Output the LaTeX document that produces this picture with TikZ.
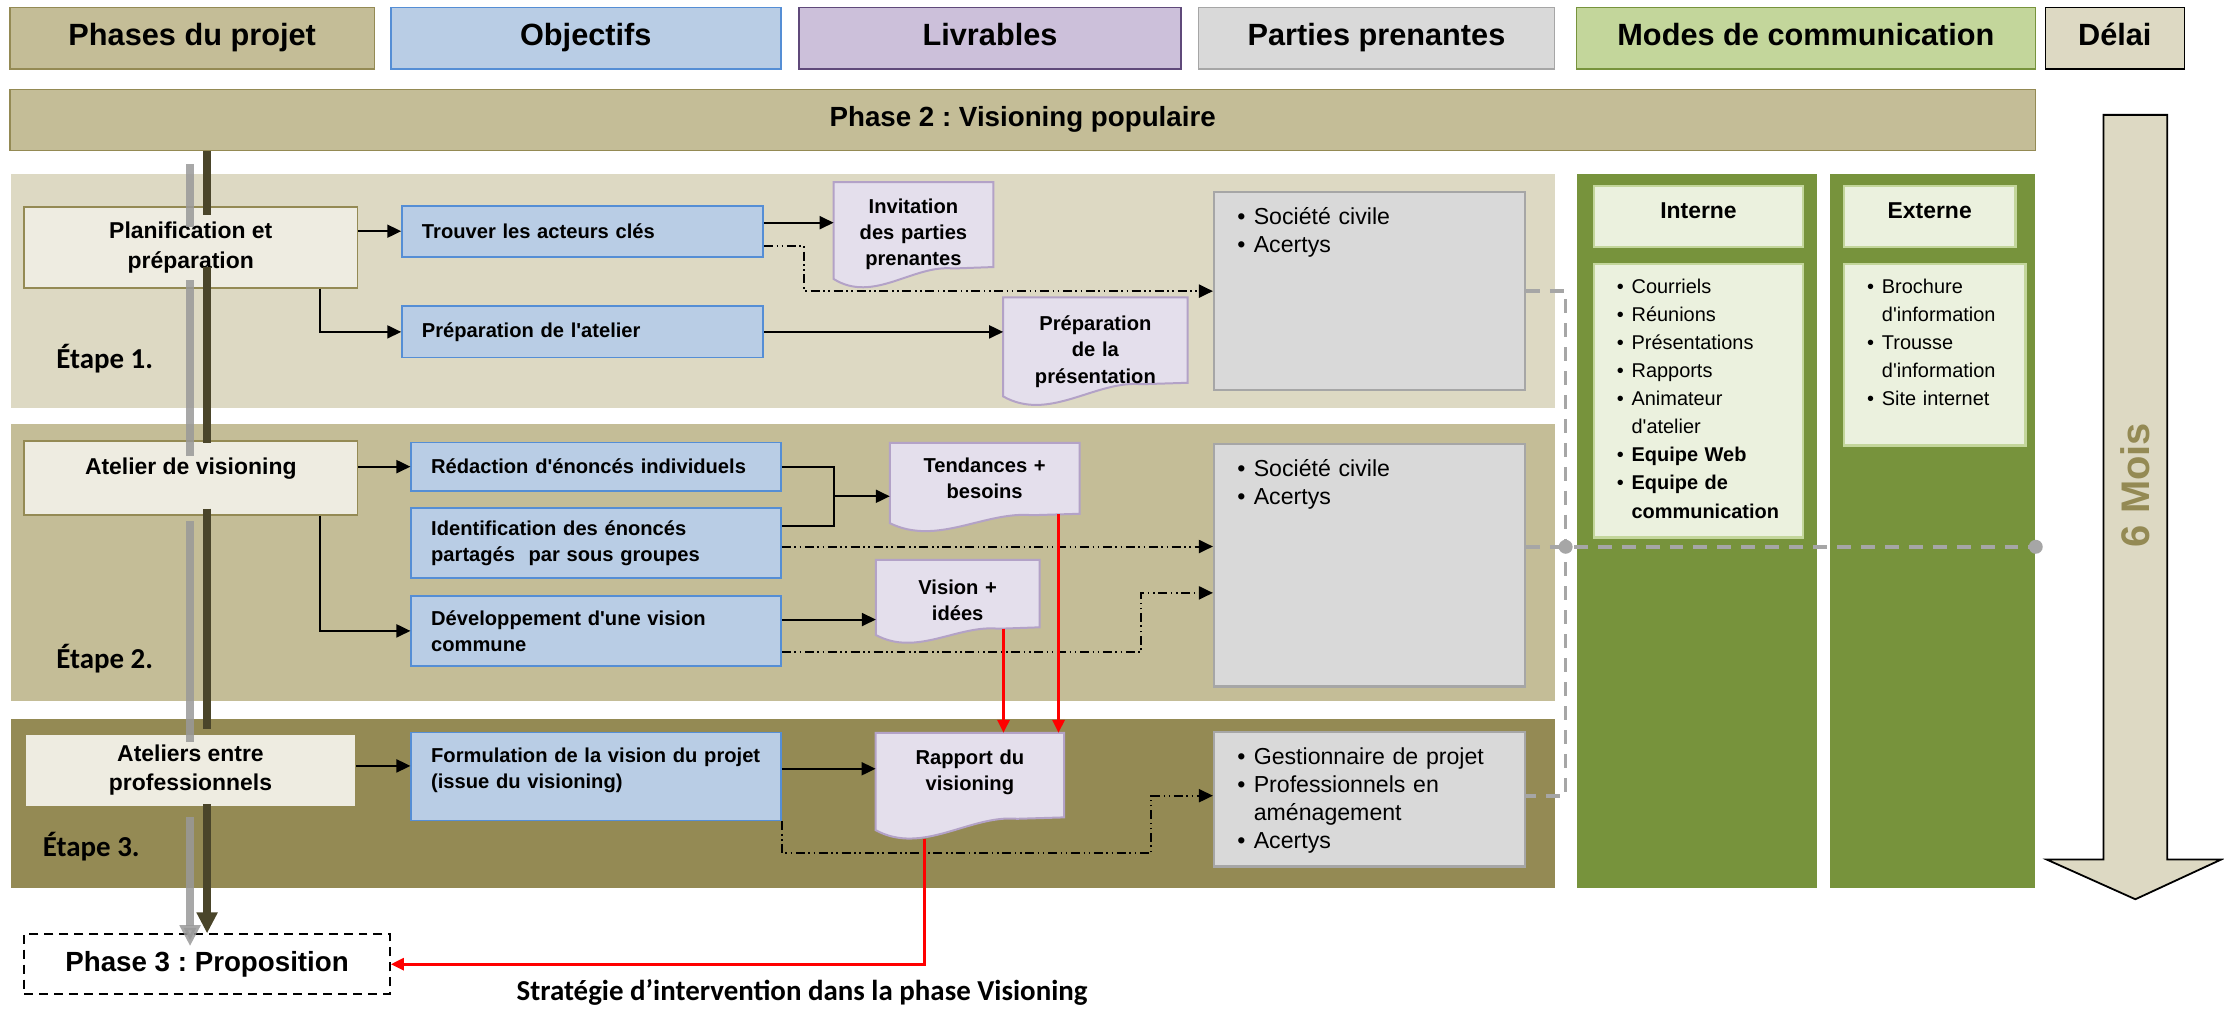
\documentclass[tikz,border=0pt]{standalone}
\usepackage{fontspec}
\setmainfont{Liberation Sans}
\newfontfamily\calibfont{Carlito}
\usetikzlibrary{arrows.meta, calc}
\definecolor{TanLight}{HTML}{DDD9C3}
\definecolor{TanMid}{HTML}{C4BD97}
\definecolor{TanDark}{HTML}{948A54}
\definecolor{TanPale}{HTML}{EEECE1}
\definecolor{ObjBlue}{HTML}{B9CDE5}
\definecolor{ObjEdge}{HTML}{558ED5}
\definecolor{LivFill}{HTML}{E4DFEC}
\definecolor{LivEdge}{HTML}{B3A2C7}
\definecolor{LivHead}{HTML}{CCC0DA}
\definecolor{LivHeadEdge}{HTML}{5F497A}
\definecolor{PPGray}{HTML}{D9D9D9}
\definecolor{PPEdge}{HTML}{A6A6A6}
\definecolor{ComGreen}{HTML}{77933C}
\definecolor{ComLight}{HTML}{C3D69B}
\definecolor{ComPale}{HTML}{EBF1DE}
\definecolor{AxisDark}{HTML}{4A452A}
\definecolor{AxisShadow}{HTML}{999999}

\pgfdeclarelayer{bands}
\pgfdeclarelayer{frames}
\pgfsetlayers{bands,frames,main}

\frenchspacing
\newcommand\upx{0.25mm}
\newcommand\q{\textquotesingle}
\newcommand\pitm[1]{\makebox[8.2pt][l]{\textbullet}#1}
\newcommand\pcont{\hspace*{8.2pt}}
\newcommand\citm[1]{\makebox[7.4pt][l]{\textbullet}#1}
\newcommand\ccont{\hspace*{7.4pt}}
\newcommand\fhead{\fontsize{15.4}{18}\selectfont\bfseries}
\newcommand\fphtwo{\fontsize{13.9}{16}\selectfont\bfseries}
\newcommand\fphase{\fontsize{11.5}{14.9}\selectfont\bfseries}
\newcommand\fobj{\fontsize{10.1}{13.2}\selectfont\bfseries}
\newcommand\fpp{\fontsize{11.6}{14.1}\selectfont}
\newcommand\fcom{\fontsize{10}{14.1}\selectfont}
\newcommand\fetape{\calibfont\fontsize{14.5}{17}\selectfont\bfseries}
\newcommand\fmois{\fontsize{20}{24}\selectfont\bfseries}

% cadre "document" des livrables
\newcommand\livframe[2][13]{%
  \draw[livline] (#2.north west) -- (#2.north east) -- ($(#2.south east)+(0,-#1)$)
    -- ($(#2.south west)!0.75!(#2.south east)+(0,-#1+1)$)
    .. controls ($(#2.south west)!0.5!(#2.south east)+(0,-#1-2)$)
    and ($(#2.south west)!0.25!(#2.south east)+(0,12)$)
    .. ($(#2.south west)+(0,-0.4*#1)$) -- cycle;}

\tikzset{
  headbox/.style={draw, line width=0.8pt, minimum height=43.5*\upx, inner sep=0pt, text height=11pt, text depth=3.3pt, font=\fhead},
  phasebox/.style={draw=TanDark, fill=TanPale, line width=0.8pt, minimum width=235*\upx, align=center, font=\fphase},
  objbox/.style={draw=ObjEdge, fill=ObjBlue, line width=0.9pt, inner xsep=14*\upx, inner ysep=1pt, text width=#1*\upx-28*\upx, align=left, font=\fobj},
  livrable/.style={inner sep=0pt, text width=#1*\upx, minimum width=#1*\upx, align=center, font=\fobj},
  livline/.style={draw=LivEdge, fill=LivFill, line width=1pt},
  ppbox/.style={draw=PPEdge, fill=PPGray, line width=1.2pt, minimum width=219*\upx},
  pptext/.style={anchor=north west, inner sep=0pt, text width=200*\upx, align=left, font=\fpp},
  colgreen/.style={fill=ComGreen, minimum height=503*\upx, inner sep=0pt},
  combox/.style={draw=ComLight, fill=ComPale, line width=1.2pt, inner sep=0pt},
  comtext/.style={anchor=north west, inner sep=0pt, text width=125*\upx, align=left, font=\fcom},
  etape/.style={anchor=west, inner sep=0pt, font=\fetape},
  link/.style={line width=1pt, -{Triangle[length=7pt,width=6.5pt]}},
  dashlink/.style={link, dash pattern=on 4.5pt off 1.8pt on 0.8pt off 1.8pt on 0.8pt off 1.8pt},
  redlink/.style={red, line width=1.4pt, -{Triangle[length=6.5pt,width=6pt]}},
  axis/.style={AxisDark, line width=3.6pt, -{Triangle[length=10.5pt,width=10pt]}},
  axisshadow/.style={axis, AxisShadow, opacity=0.85, transform canvas={xshift=-3mm, yshift=-2.25mm}},
  graylink/.style={PPEdge, line width=1.8pt, dash pattern=on 7pt off 5pt},
}

\begin{document}
\begin{tikzpicture}[x=\upx, y=-\upx]
\useasboundingbox (0,0) rectangle (1568,711);

% en-tetes
\node[headbox, draw=TanDark, fill=TanMid, minimum width=257*\upx] (hphases) at (135.5,27) {Phases du projet};
\node[headbox, draw=ObjEdge, fill=ObjBlue, minimum width=275*\upx] (hobj) at (413,27) {Objectifs};
\node[headbox, draw=LivHeadEdge, fill=LivHead, minimum width=269*\upx] (hliv) at (698,27) {Livrables};
\node[headbox, draw=PPEdge, fill=PPGray, minimum width=251*\upx] (hpp) at (970.5,27) {Parties prenantes};
\node[headbox, draw=ComGreen, fill=ComLight, minimum width=323.5*\upx] (hcom) at (1273.25,27) {Modes de communication};
\node[headbox, draw=black, fill=TanLight, minimum width=98*\upx] (hdelai) at (1491,27) {Délai};
\node[headbox, draw=TanDark, fill=TanMid, minimum width=1428*\upx, minimum height=43*\upx, text height=10pt, text depth=3pt, font=\fphtwo] (phase2) at (721,84.5) {Phase 2 : Visioning populaire};

% bandes des etapes et colonnes
\begin{pgfonlayer}{bands}
  \fill[TanLight] (8,123) rectangle (1096,287.6);
  \fill[TanMid] (8,299) rectangle (1096,494);
  \fill[TanDark] (8,507) rectangle (1096,626);
  \node[colgreen, minimum width=169*\upx] (colint) at (1196.5,374.5) {};
  \node[colgreen, minimum width=145*\upx] (colext) at (1362.5,374.5) {};
\end{pgfonlayer}

\node[etape] (et1) at (39.5,253) {Étape 1.};
\node[etape] (et2) at (39.5,464) {Étape 2.};
\node[etape] (et3) at (30,597) {Étape 3.};

% phases
\node[phasebox, minimum height=57*\upx] (planif) at (134.5,174.4) {Planification et\\préparation};
\node[phasebox, minimum height=52*\upx, text height=8.5pt, text depth=11.7pt] (atelier) at (134.5,337) {Atelier de visioning};
\node[phasebox, minimum width=232.7*\upx, minimum height=51*\upx] (ateliers) at (134.3,543) {Ateliers entre\\professionnels};
\node[draw, line width=0.8pt, dash pattern=on 4.5pt off 3pt, minimum width=258*\upx, minimum height=42.4*\upx, font=\fphtwo] (phase3) at (146,679.8) {Phase 3 : Proposition};

% objectifs
\node[objbox=254.5, minimum height=36*\upx] (trouver) at (410.75,163) {Trouver les acteurs clés};
\node[objbox=254.5, minimum height=36*\upx] (prepat) at (410.75,234) {Préparation de l\q{}atelier};
\node[objbox=260.6, minimum height=34*\upx] (redac) at (420.3,329) {Rédaction d\q{}énoncés individuels};
\node[objbox=260.6, minimum height=49.6*\upx] (ident) at (420.3,382.8) {Identification des énoncés\\partagés~ par sous groupes};
\node[objbox=260.6, minimum height=49.5*\upx] (devel) at (420.3,444.8) {Développement d\q{}une vision\\commune};
\node[objbox=260.6, minimum height=62*\upx, text height=7.4pt, text depth=21.7pt] (formul) at (420.3,547.5) {Formulation de la vision du projet\\(issue du visioning)};

% livrables
\node[livrable=112, minimum height=73.4*\upx] (invit) at (644,165.3) {Invitation\\des parties\\prenantes};
\node[livrable=129.5, minimum height=75.6*\upx] (prepres) at (772.3,247.8) {Préparation\\de la\\présentation};
\node[livrable=133.2, minimum height=60.5*\upx, text height=7.4pt, text depth=21pt] (tend) at (694.2,342.7) {Tendances +\\besoins};
\node[livrable=114.8, minimum height=56*\upx] (vision) at (675.2,423) {Vision +\\idées};
\node[livrable=132.4, minimum height=74*\upx, text height=7.4pt, text depth=29.2pt] (rapport) at (683.8,554) {Rapport du\\visioning};
\begin{pgfonlayer}{frames}
  \foreach \d/\r in {invit/14, prepres/16, tend/11, vision/9, rapport/15} {\livframe[\r]{\d}}
\end{pgfonlayer}

% parties prenantes
\node[ppbox, minimum height=139.5*\upx] (pp1) at (965.5,205.25) {};
\node[ppbox, minimum height=171*\upx] (pp2) at (965.5,398.5) {};
\node[ppbox, minimum height=95*\upx] (pp3) at (965.5,563.5) {};
\node[pptext] (pp1t) at ($(pp1.north west)+(17,11.5)$) {\pitm{Société civile}\\\pitm{Acertys}};
\node[pptext] (pp2t) at ($(pp2.north west)+(17,11.5)$) {\pitm{Société civile}\\\pitm{Acertys}};
\node[pptext] (pp3t) at ($(pp3.north west)+(17,11.5)$) {\pitm{Gestionnaire de projet}\\\pitm{Professionnels en}\\\pcont aménagement\\\pitm{Acertys}};

% modes de communication
\node[combox, minimum width=147*\upx, minimum height=43*\upx, font=\fphase, text height=8.4pt, text depth=5.7pt] (interne) at (1197.5,152.5) {Interne};
\node[combox, minimum width=121*\upx, minimum height=43*\upx, font=\fphase, text height=8.4pt, text depth=5.7pt] (externe) at (1360.5,152.5) {Externe};
\node[combox, minimum width=147*\upx, minimum height=193*\upx] (intlist) at (1197.5,282.5) {};
\node[combox, minimum width=128*\upx, minimum height=128*\upx] (extlist) at (1364,250) {};
\node[comtext] (intt) at ($(intlist.north west)+(16.5,11)$) {\citm{Courriels}\\\citm{Réunions}\\\citm{Présentations}\\\citm{Rapports}\\\citm{Animateur}\\\ccont d\q{}atelier\\\citm{\textbf{Equipe Web}}\\\citm{\textbf{Equipe de}}\\\ccont\textbf{communication}};
\node[comtext] (extt) at ($(extlist.north west)+(17,11)$) {\citm{Brochure}\\\ccont d\q{}information\\\citm{Trousse}\\\ccont d\q{}information\\\citm{Site internet}};

% delai
\draw[fill=TanLight, line width=0.9pt] (1483,81) -- (1528,81) -- (1528,606) -- (1566,606) -- (1505.5,634) -- (1443,606) -- (1483,606) -- cycle;
\node[rotate=90, font=\fmois, text=TanDark] (mois) at (1505.5,342) {6 Mois};

\node[font=\fetape, anchor=base] (strat) at (565.5,705.5) {Stratégie d’intervention dans la phase Visioning};

% etape 1
\draw[link] (planif.east |- trouver.west) -- (trouver.west);
\draw[link] ($(planif.south west)!0.885!(planif.south east)$) |- (prepat.west);
\coordinate (t1) at ($(trouver.east)+(0,-6)$);
\coordinate (t2) at ($(trouver.east)+(0,10.5)$);
\draw[link] (t1) -- (t1 -| invit.west);
\draw[dashlink] (t2) -- ++(28.5,0) |- (pp1.west);
\draw[link] (prepat.east) -- (prepat.east -| prepres.west);

% etape 2
\draw[link] (atelier.east |- redac.west) -- (redac.west);
\draw[link] ($(atelier.south west)!0.885!(atelier.south east)$) |- (devel.west);
\coordinate (m1) at ($(ident.east)+(0,-12)$);
\coordinate (j1) at ($(redac.east)!0.5!(m1)+(37,0)$);
\draw[line width=1pt] (redac.east) -| (m1 -| j1) -- (m1);
\draw[link] (j1) -- (j1 -| tend.west);
\coordinate (i2) at ($(ident.east)+(0,2.5)$);
\draw[dashlink] (i2) -- (i2 -| pp2.west);
\coordinate (d1) at ($(devel.east)+(0,-8)$);
\coordinate (d2) at ($(devel.east)+(0,15)$);
\draw[link] (d1) -- (d1 -| vision.west);
\draw[dashlink] (d2) -- ++(253.5,0) |- ($(pp2.west)+(0,19.5)$);

% etape 3
\coordinate (f0) at ($(formul.west)+(0,-7.5)$);
\coordinate (f1) at ($(formul.east)+(0,-5.5)$);
\coordinate (p3) at ($(pp3.west)+(0,-2.5)$);
\draw[link] (f0 -| ateliers.east) -- (f0);
\draw[link] (f1) -- (f1 -| rapport.west);
\draw[dashlink] (formul.south east) -- ++(0,22.5) -| ($(p3)+(-43.5,0)$) -- (p3);

% fleches rouges
\coordinate (r1) at ($(tend.south east)+(-14.8,-11)$);
\coordinate (r2) at ($(vision.south west)!0.78!(vision.south east)+(0,-8)$);
\coordinate (r3) at ($(rapport.south west)!0.26!(rapport.south east)$);
\draw[redlink] (r1) -- (r1 |- rapport.north);
\draw[redlink] (r2) -- (r2 |- rapport.north);
\draw[redlink] (r3) |- (phase3.east);

% liens gris vers les modes de communication
\coordinate (gx) at ($(pp1.east)+(28,0)$);
\coordinate (g2) at ($(pp2.east)+(0,-13)$);
\coordinate (p3e) at ($(pp3.east)+(0,-2.5)$);
\draw[graylink] (pp1.east) -- (gx) -- (gx |- p3e) -- (p3e);
\draw[graylink] (g2) -- (g2 -| colext.east);
\fill[PPEdge] (gx |- g2) circle (3.5pt) (g2 -| colext.east) circle (3.5pt);

% axe des phases
\coordinate (ax) at (146,0);
\foreach \st in {axisshadow, axis}
  \draw[\st] (ax |- phase2.south) -- ($(ax |- planif.north)+(0,6)$)
    ($(ax |- planif.south)+(0,-15)$) -- ($(ax |- atelier.north)+(0,2)$)
    ($(ax |- atelier.south)+(0,-5)$) -- ($(ax |- ateliers.north)+(0,-3)$)
    ($(ax |- ateliers.south)+(0,-2)$) -- (ax |- phase3.north);
\end{tikzpicture}
\end{document}
